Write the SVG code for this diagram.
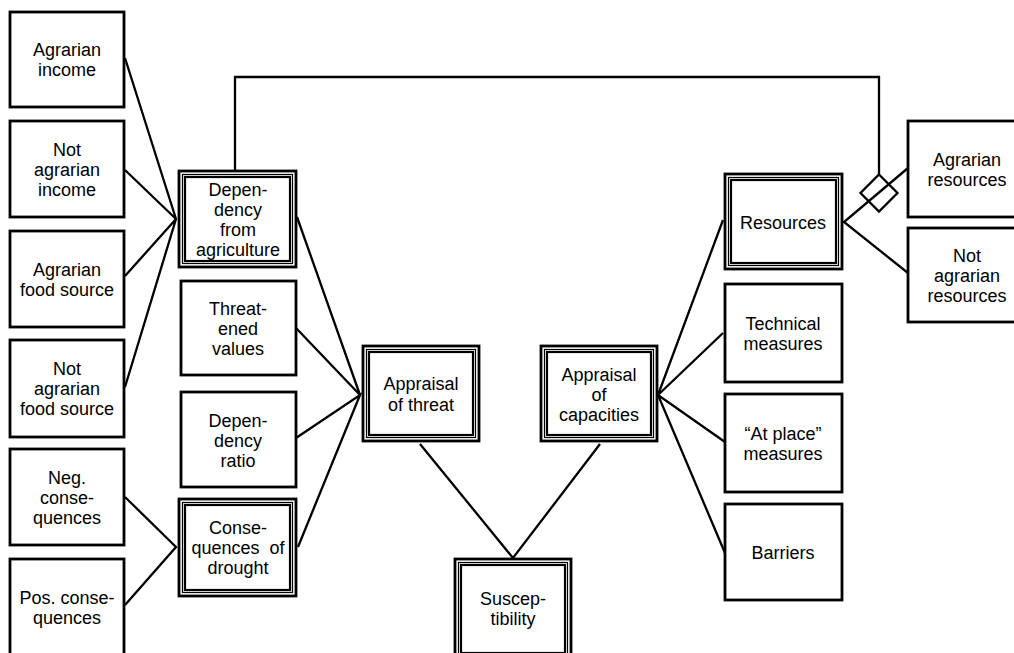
<svg xmlns="http://www.w3.org/2000/svg" width="1014" height="653" viewBox="0 0 1014 653">
<style>
.b{fill:#fff;stroke:#000;stroke-width:2.8}
.m{fill:none;stroke:#000;stroke-width:1.2}
.i{fill:none;stroke:#000;stroke-width:2.2}
.c{fill:none;stroke:#000;stroke-width:2.3;stroke-linejoin:miter}
text{font-family:"Liberation Sans",Arial,sans-serif;font-size:18px;fill:#000;text-anchor:middle}
</style>
<rect width="1014" height="653" fill="#fff"/>
<g id="connectors">
<polyline class="c" points="125,58 176,219 125,170"/>
<polyline class="c" points="125,276 176,219 125,387"/>
<polyline class="c" points="125,497 176,547 125,605"/>
<polyline class="c" points="297,217 360,395 296,328"/>
<polyline class="c" points="296,438 360,395 298,547"/>
<polyline class="c" points="420,444 513,558 600,444"/>
<polyline class="c" points="723,220 658,395 723,333"/>
<polyline class="c" points="725,442 658,395 725,553"/>
<polyline class="c" points="908,168 844,222 908,273"/>
<polyline class="c" points="235,171 235,77 879,77 879,175"/>
<polygon class="c" points="879,174.5 897.5,193 879,211.5 860.5,193" fill="#fff"/>
</g>
<g id="n1"><rect class="b" x="10" y="12" width="114" height="95"/><text x="67" y="56">Agrarian</text><text x="67" y="76">income</text></g>
<g id="n2"><rect class="b" x="10" y="121" width="114" height="96"/><text x="67" y="156">Not</text><text x="67" y="176">agrarian</text><text x="67" y="196">income</text></g>
<g id="n3"><rect class="b" x="10" y="231" width="114" height="96"/><text x="67" y="276">Agrarian</text><text x="67" y="296">food source</text></g>
<g id="n4"><rect class="b" x="10" y="340" width="114" height="97"/><text x="67" y="375">Not</text><text x="67" y="395">agrarian</text><text x="67" y="415">food source</text></g>
<g id="n5"><rect class="b" x="10" y="449" width="114" height="96"/><text x="67" y="484">Neg.</text><text x="67" y="504">conse-</text><text x="67" y="524">quences</text></g>
<g id="n6"><rect class="b" x="10" y="559" width="114" height="98"/><text x="67" y="604">Pos. conse-</text><text x="67" y="624">quences</text></g>
<g id="dep"><rect class="b" x="179" y="171" width="117" height="96"/><rect class="m" x="182.5" y="174.5" width="110" height="89"/><rect class="i" x="185" y="177" width="105" height="84"/><text x="238" y="196">Depen-</text><text x="238" y="216">dency</text><text x="238" y="236">from</text><text x="238" y="256">agriculture</text></g>
<g id="thr"><rect class="b" x="181" y="281" width="115" height="94"/><text x="238" y="315">Threat-</text><text x="238" y="335">ened</text><text x="238" y="355">values</text></g>
<g id="ratio"><rect class="b" x="181" y="392" width="115" height="95"/><text x="238" y="427">Depen-</text><text x="238" y="447">dency</text><text x="238" y="467">ratio</text></g>
<g id="cons"><rect class="b" x="179" y="499" width="117" height="97"/><rect class="m" x="182.5" y="502.5" width="110" height="90"/><rect class="i" x="185" y="505" width="105" height="85"/><text x="238" y="534">Conse-</text><text x="238" y="554" xml:space="preserve">quences  of</text><text x="238" y="574">drought</text></g>
<g id="apt"><rect class="b" x="363" y="346" width="116" height="95"/><rect class="m" x="366.5" y="349.5" width="109" height="88"/><rect class="i" x="369" y="352" width="104" height="83"/><text x="421" y="390">Appraisal</text><text x="421" y="411">of threat</text></g>
<g id="apc"><rect class="b" x="541" y="346" width="116" height="95"/><rect class="m" x="544.5" y="349.5" width="109" height="88"/><rect class="i" x="547" y="352" width="104" height="83"/><text x="599" y="381">Appraisal</text><text x="599" y="401">of</text><text x="599" y="421">capacities</text></g>
<g id="sus"><rect class="b" x="455" y="559" width="116" height="100"/><rect class="m" x="458.5" y="562.5" width="109" height="93"/><rect class="i" x="461" y="565" width="104" height="88"/><text x="513" y="605">Suscep-</text><text x="513" y="625">tibility</text></g>
<g id="res"><rect class="b" x="725" y="174" width="117" height="95"/><rect class="m" x="728.5" y="177.5" width="110" height="88"/><rect class="i" x="731" y="180" width="105" height="83"/><text x="783" y="229">Resources</text></g>
<g id="tech"><rect class="b" x="725" y="284" width="117" height="98"/><text x="783" y="330">Technical</text><text x="783" y="350">measures</text></g>
<g id="atp"><rect class="b" x="725" y="394" width="117" height="98"/><text x="783" y="440">“At place”</text><text x="783" y="460">measures</text></g>
<g id="bar"><rect class="b" x="725" y="504" width="117" height="96"/><text x="783" y="559">Barriers</text></g>
<g id="ares"><rect class="b" x="908" y="121" width="120" height="96"/><text x="967" y="166">Agrarian</text><text x="967" y="186">resources</text></g>
<g id="nres"><rect class="b" x="908" y="228" width="120" height="94"/><text x="967" y="262">Not</text><text x="967" y="282">agrarian</text><text x="967" y="302">resources</text></g>
</svg>
